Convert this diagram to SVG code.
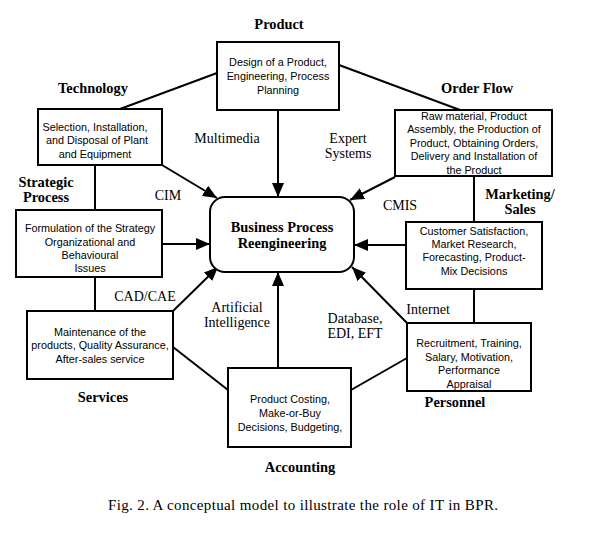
<svg xmlns="http://www.w3.org/2000/svg" width="610" height="540" viewBox="0 0 610 540">
<defs>
<marker id="ah" markerWidth="14" markerHeight="12" refX="14" refY="6" orient="auto" markerUnits="userSpaceOnUse">
<path d="M0,0 L14,6 L0,12 Z" fill="#000"/>
</marker>
<style>
.box{fill:#fff;stroke:#000;stroke-width:2}
.bt{font-family:"Liberation Sans",Arial,sans-serif;font-size:10.8px;text-anchor:middle;fill:#000}
.hd{font-family:"Liberation Serif","Times New Roman",serif;font-size:14.4px;font-weight:bold;text-anchor:middle;fill:#000}
.lb{font-family:"Liberation Serif","Times New Roman",serif;font-size:14px;text-anchor:middle;fill:#000}
.ln{stroke:#000;stroke-width:2;fill:none}
.ar{stroke:#000;stroke-width:2;fill:none;marker-end:url(#ah)}
</style>
</defs>
<rect width="610" height="540" fill="#fff"/>
<g id="connectors">
<line class="ln" x1="217" y1="73" x2="120" y2="109"/>
<line class="ln" x1="339" y1="65" x2="460" y2="110"/>
<line class="ln" x1="95" y1="165" x2="95" y2="210"/>
<line class="ln" x1="95" y1="277" x2="95" y2="311"/>
<line class="ln" x1="474" y1="176" x2="474" y2="222"/>
<line class="ln" x1="474" y1="289" x2="474" y2="323"/>
<line class="ln" x1="173" y1="347" x2="228" y2="390"/>
<line class="ln" x1="351" y1="390" x2="407" y2="358"/>
<line class="ar" x1="278" y1="110" x2="278" y2="197"/>
<line class="ar" x1="162" y1="165" x2="217" y2="198"/>
<line class="ar" x1="395" y1="177" x2="350" y2="200"/>
<line class="ar" x1="157" y1="244" x2="210" y2="244"/>
<line class="ar" x1="406" y1="245" x2="354" y2="245"/>
<line class="ar" x1="173" y1="311" x2="218" y2="267"/>
<line class="ar" x1="407" y1="323" x2="352" y2="267"/>
<line class="ar" x1="278" y1="368" x2="278" y2="272"/>
</g>
<g id="bpr">
<rect class="box" x="210" y="197" width="144" height="75" rx="15"/>
<text class="hd" x="282" y="232">Business Process</text>
<text class="hd" x="282" y="248">Reengineering</text>
</g>
<g id="product">
<text class="hd" x="279" y="29">Product</text>
<rect class="box" x="217" y="42" width="122" height="68"/>
<text class="bt" x="278" y="66">Design of a Product,</text>
<text class="bt" x="278" y="80">Engineering, Process</text>
<text class="bt" x="278" y="94">Planning</text>
</g>
<g id="technology">
<text class="hd" x="93" y="93">Technology</text>
<rect class="box" x="38" y="109" width="124" height="56"/>
<text class="bt" x="95" y="131">Selection, Installation,</text>
<text class="bt" x="97" y="144">and Disposal of Plant</text>
<text class="bt" x="95" y="158">and Equipment</text>
</g>
<g id="orderflow">
<text class="hd" x="477" y="93">Order Flow</text>
<rect class="box" x="395" y="110" width="157" height="66"/>
<text class="bt" x="474" y="120">Raw material, Product</text>
<text class="bt" x="474" y="133">Assembly, the Production of</text>
<text class="bt" x="474" y="147">Product, Obtaining Orders,</text>
<text class="bt" x="474" y="160">Delivery and Installation of</text>
<text class="bt" x="474" y="174">the Product</text>
</g>
<g id="strategic">
<text class="hd" x="46" y="187">Strategic</text>
<text class="hd" x="46" y="202">Process</text>
<rect class="box" x="16" y="210" width="146" height="67"/>
<text class="bt" x="90" y="232">Formulation of the Strategy</text>
<text class="bt" x="90" y="246">Organizational and</text>
<text class="bt" x="90" y="259">Behavioural</text>
<text class="bt" x="90" y="272">Issues</text>
</g>
<g id="marketing">
<text class="hd" x="520" y="199">Marketing/</text>
<text class="hd" x="520" y="214">Sales</text>
<rect class="box" x="406" y="222" width="136" height="67"/>
<text class="bt" x="474" y="235">Customer Satisfaction,</text>
<text class="bt" x="474" y="248">Market Research,</text>
<text class="bt" x="474" y="261">Forecasting, Product-</text>
<text class="bt" x="474" y="275">Mix Decisions</text>
</g>
<g id="services">
<rect class="box" x="27" y="311" width="146" height="68"/>
<text class="bt" x="100" y="336">Maintenance of the</text>
<text class="bt" x="100" y="349">products, Quality Assurance,</text>
<text class="bt" x="100" y="363">After-sales service</text>
<text class="hd" x="103" y="402">Services</text>
</g>
<g id="personnel">
<rect class="box" x="407" y="323" width="124" height="68"/>
<text class="bt" x="469" y="347">Recruitment, Training,</text>
<text class="bt" x="469" y="361">Salary, Motivation,</text>
<text class="bt" x="469" y="374">Performance</text>
<text class="bt" x="469" y="388">Appraisal</text>
<text class="hd" x="455" y="407">Personnel</text>
</g>
<g id="accounting">
<rect class="box" x="228" y="368" width="123" height="79"/>
<text class="bt" x="290" y="403">Product Costing,</text>
<text class="bt" x="290" y="417">Make-or-Buy</text>
<text class="bt" x="290" y="431">Decisions, Budgeting,</text>
<text class="hd" x="300" y="472">Accounting</text>
</g>
<g id="labels">
<text class="lb" x="227" y="143">Multimedia</text>
<text class="lb" x="348" y="143">Expert</text>
<text class="lb" x="348" y="158">Systems</text>
<text class="lb" x="168" y="200">CIM</text>
<text class="lb" x="400" y="210">CMIS</text>
<text class="lb" x="145" y="301">CAD/CAE</text>
<text class="lb" x="237" y="312">Artificial</text>
<text class="lb" x="237" y="327">Intelligence</text>
<text class="lb" x="355" y="323">Database,</text>
<text class="lb" x="355" y="338">EDI, EFT</text>
<text class="lb" x="428" y="314">Internet</text>
</g>
<text class="lb" x="303" y="510" style="font-size:15px" textLength="390" lengthAdjust="spacing">Fig. 2. A conceptual model to illustrate the role of IT in BPR.</text>
</svg>
